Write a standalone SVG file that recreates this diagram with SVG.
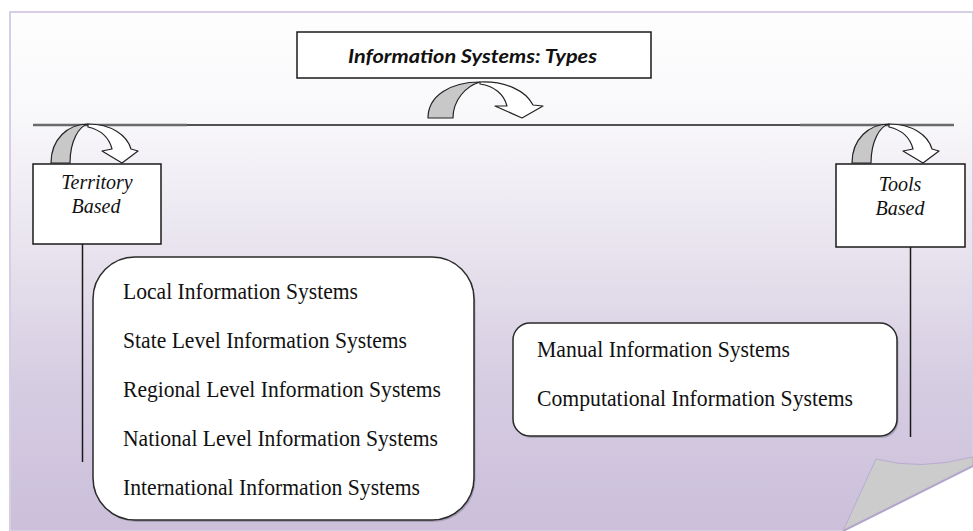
<svg xmlns="http://www.w3.org/2000/svg" xmlns:xlink="http://www.w3.org/1999/xlink" width="973" height="531" viewBox="0 0 973 531">
<defs>
<linearGradient id="bg" x1="0" y1="11" x2="0" y2="531" gradientUnits="userSpaceOnUse">
<stop offset="0" stop-color="#fefefe"/>
<stop offset="0.21" stop-color="#f8f7fa"/>
<stop offset="0.46" stop-color="#e8e3ee"/>
<stop offset="0.71" stop-color="#d6cde2"/>
<stop offset="1" stop-color="#cbbfda"/>
</linearGradient>
<style>
.box{fill:#fff;stroke:#1a1a1a;stroke-width:1.5}
.rbox{fill:#fff;stroke:#2a2a2a;stroke-width:1.5}
.shadow{fill:#6f6878;opacity:.4}
.ln{stroke:#1a1a1a;stroke-width:1.5;fill:none}
.lng{stroke:#6a6a6a;stroke-width:2.5;fill:none}
.back{fill:#c8c8c8;stroke:#222;stroke-width:1.2;stroke-linejoin:round}
.front{fill:#fff;stroke:#222;stroke-width:1.2;stroke-linejoin:round}
.title{font-family:Lato,"Liberation Sans",sans-serif;font-weight:bold;font-style:italic;font-size:19px;fill:#111}
.cat{font-family:"Liberation Serif",serif;font-style:italic;font-size:20px;fill:#111;text-anchor:middle}
.item{font-family:"Liberation Serif",serif;font-size:24px;fill:#111}
</style>
<g id="smallArrow">
<path class="back" d="M0,0 C0,-24 17,-39 37,-39 C28,-37 19,-22 19,0 Z"/>
<path class="front" d="M37,-39 C60,-39 76,-28 80,-14 L87,-12 L71,0 L51,-12 L61,-14 C58,-26 50,-33 37,-36 Z"/>
</g>
</defs>

<rect width="973" height="531" fill="#ffffff"/>
<g id="page">
<path d="M10,12 H973 V466 L843,531 H10 Z" fill="url(#bg)" stroke="#d6cee4" stroke-width="2"/>
<path d="M876,459 Q920,471 973,457 V466 L843,531 Z" fill="#cccccc" stroke="#b8acd0" stroke-width="1"/>
<line x1="843" y1="531" x2="973" y2="466" stroke="#b3a6cc" stroke-width="2"/>
</g>

<g id="connectors">
<line class="ln" x1="33" y1="125" x2="954" y2="125"/>
<line class="lng" x1="33" y1="125" x2="187" y2="125"/>
<line class="lng" x1="800" y1="125" x2="954" y2="125"/>
<line class="ln" x1="82.5" y1="244" x2="82.5" y2="462"/>
<line class="ln" x1="910.5" y1="247" x2="910.5" y2="437"/>
<g id="arrow-center" transform="translate(428,118)">
<path class="back" d="M0,0 C0,-22 22,-36 52,-36 C38,-32 25,-18 25,0 Z"/>
<path class="front" d="M52,-36 C78,-37 98,-27 105,-13 L115,-12 L94,0 L67,-12 L79,-12 C76,-24 66,-32 52,-34 Z"/>
</g>
<use xlink:href="#smallArrow" transform="translate(51,163)"/>
<use xlink:href="#smallArrow" transform="translate(852,163)"/>
</g>

<g id="node-title">
<rect class="box" x="297" y="32" width="354" height="46"/>
<text class="title" x="348" y="63" textLength="249" lengthAdjust="spacingAndGlyphs">Information Systems: Types</text>
</g>

<g id="node-territory">
<rect class="box" x="33" y="164" width="128" height="80"/>
<text class="cat" x="97" y="189">Territory</text>
<text class="cat" x="96" y="213">Based</text>
</g>

<g id="node-tools">
<rect class="box" x="836" y="164" width="129" height="83"/>
<text class="cat" x="900" y="191">Tools</text>
<text class="cat" x="900" y="215">Based</text>
</g>

<g id="node-territory-list">
<rect class="shadow" x="94.5" y="259" width="381" height="263" rx="42"/>
<rect class="rbox" x="93" y="257" width="381" height="263" rx="42"/>
<text class="item" x="123" y="299" textLength="235" lengthAdjust="spacingAndGlyphs">Local Information Systems</text>
<text class="item" x="123" y="348" textLength="284" lengthAdjust="spacingAndGlyphs">State Level Information Systems</text>
<text class="item" x="123" y="397" textLength="318" lengthAdjust="spacingAndGlyphs">Regional Level Information Systems</text>
<text class="item" x="123" y="446" textLength="315" lengthAdjust="spacingAndGlyphs">National Level Information Systems</text>
<text class="item" x="123" y="495" textLength="297" lengthAdjust="spacingAndGlyphs">International Information Systems</text>
</g>

<g id="node-tools-list">
<rect class="shadow" x="514.5" y="325" width="384" height="113" rx="17"/>
<rect class="rbox" x="513" y="323" width="384" height="113" rx="17"/>
<text class="item" x="537" y="357" textLength="253" lengthAdjust="spacingAndGlyphs">Manual Information Systems</text>
<text class="item" x="537" y="406" textLength="316" lengthAdjust="spacingAndGlyphs">Computational Information Systems</text>
</g>
</svg>
